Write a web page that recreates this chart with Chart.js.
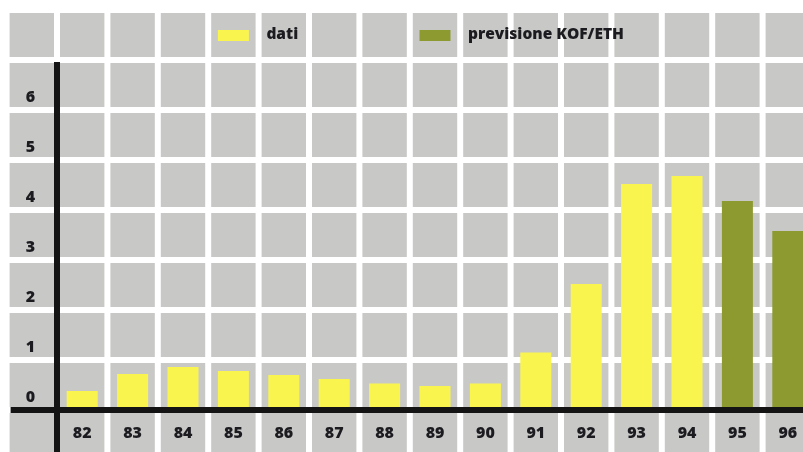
<!DOCTYPE html>
<html>
<head>
<meta charset="utf-8">
<title>dati / previsione KOF/ETH</title>
<script src="https://cdn.jsdelivr.net/npm/chart.js@4.4.1/dist/chart.umd.min.js"></script>
<style>
    html, body { margin: 0; padding: 0; background: #fff; overflow: hidden; }
    #wrap { position: absolute; left: 0; top: 0; width: 813px; height: 452px; }
</style>
</head>
<body>
<div id="wrap"><canvas id="chart" width="813" height="452"></canvas></div>
<script>
// --- Data ---
const years = ['82', '83', '84', '85', '86', '87', '88', '89', '90', '91', '92', '93', '94', '95', '96'];
const dati = [0.38, 0.72, 0.86, 0.78, 0.70, 0.62, 0.53, 0.48, 0.53, 1.15, 2.52, 4.52, 4.68, null, null];
const previsione = [null, null, null, null, null, null, null, null, null, null, null, null, null, 4.18, 3.58];
const yTicks = [0, 1, 2, 3, 4, 5, 6];

const TILE = '#c8c9c6';
const INK = '#1b1b20';
const FONT = "'Open Sans', 'DejaVu Sans', sans-serif";
const WEIGHT = 800;

/**
 * Paints the tiled background: grey squares with white gaps,
 * following the pitch of the two scales over the whole canvas.
 */
const tilePlugin = {
    id: 'tiles',
    beforeDraw(chart) {
        const { ctx, width, height, scales: { x, y } } = chart;
        const px = x.getPixelForValue(1) - x.getPixelForValue(0);
        const py = y.getPixelForValue(0) - y.getPixelForValue(1);
        const x0 = chart.chartArea.left;
        const y0 = y.getPixelForValue(0);
        const gap = 6;

        ctx.save();
        ctx.fillStyle = '#fff';
        ctx.fillRect(0, 0, width, height);
        ctx.fillStyle = TILE;
        for (let i = -1; x0 + i * px < width; i++) {
            for (let j = -1; y0 - (j + 1) * py > 0; j++) {
                const left = x0 + i * px + gap / 2;
                const top = y0 - (j + 1) * py + gap / 2;
                ctx.fillRect(left, top, px - gap, py - gap);
            }
        }
        ctx.restore();
    },
    afterDatasetsDraw(chart) {
        const { ctx, width, height, chartArea, scales: { x, y } } = chart;
        const y0 = y.getPixelForValue(0);
        const px = x.getPixelForValue(1) - x.getPixelForValue(0);
        const gap = 6;
        ctx.save();
        ctx.fillStyle = '#141414';
        // y axis runs down through the label row
        ctx.fillRect(chartArea.left - gap / 2, chartArea.top + 2, gap, height - chartArea.top);
        // x axis runs left through the label column
        ctx.fillRect(chartArea.left - px + gap / 2 + 1, y0 - gap / 2, width, gap);

        // legend, one entry every four columns
        ctx.font = WEIGHT + ' 15.5px ' + FONT;
        ctx.textBaseline = 'middle';
        ctx.textAlign = 'left';
        chart.data.datasets.forEach((ds, i) => {
            const cx = x.getPixelForValue(3 + 4 * i);
            ctx.fillStyle = ds.backgroundColor;
            ctx.fillRect(cx - 15.5, 30, 31, 11);
            ctx.fillStyle = INK;
            ctx.fillText(ds.label, cx + 33, 35);
        });
        ctx.restore();
    }
};

const ctx = document.getElementById('chart').getContext('2d');
new Chart(ctx, {
    type: 'bar',
    data: {
        labels: years,
        datasets: [
            {
                label: 'dati',
                data: dati,
                backgroundColor: '#faf44f',
                grouped: false,
                barPercentage: 0.615,
                categoryPercentage: 1
            },
            {
                label: 'previsione KOF/ETH',
                data: previsione,
                backgroundColor: '#8c9a30',
                grouped: false,
                barPercentage: 0.615,
                categoryPercentage: 1
            }
        ]
    },
    options: {
        responsive: false,
        animation: false,
        devicePixelRatio: 1,
        layout: { padding: { top: 60, left: 0, right: 0, bottom: 0 } },
        plugins: { legend: { display: false }, tooltip: { enabled: false } },
        scales: {
            x: {
                grid: { display: false, drawTicks: false },
                border: { display: false },
                ticks: { color: INK, font: { family: FONT, size: 16, weight: WEIGHT }, padding: 14, maxRotation: 0 },
                afterFit(scale) { scale.height = 42; }
            },
            y: {
                min: 0,
                max: 7,
                grid: { display: false, drawTicks: false },
                border: { display: false },
                ticks: { color: INK, font: { family: FONT, size: 16, weight: WEIGHT }, padding: 22, labelOffset: -13 },
                afterBuildTicks(scale) { scale.ticks = yTicks.map(v => ({ value: v })); },
                afterFit(scale) { scale.width = 57; }
            }
        }
    },
    plugins: [tilePlugin]
});
</script>
</body>
</html>
